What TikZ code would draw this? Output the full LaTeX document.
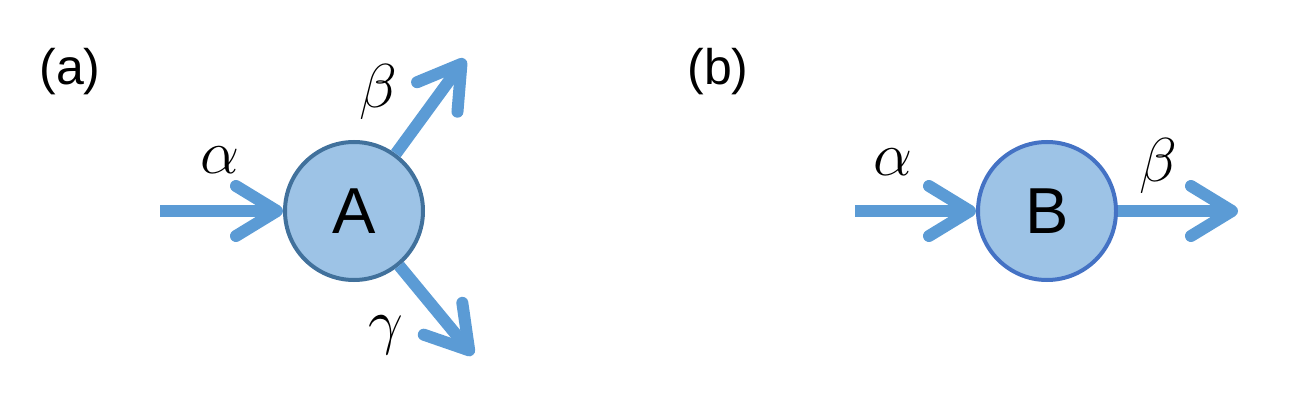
\RequirePackage{fix-cm}
\documentclass[tikz,border=0pt]{standalone}
\usepackage{fontspec}
\setmainfont{Liberation Sans}
\usetikzlibrary{arrows.meta}
\definecolor{arrowblue}{HTML}{5B9BD5}
\definecolor{fillblue}{HTML}{9DC3E6}
\definecolor{borderA}{HTML}{41719C}
\definecolor{borderB}{HTML}{4472C4}
\begin{document}
\begin{tikzpicture}[x=1pt,y=-1pt,
  state/.style={circle,fill=fillblue,line width=4pt,minimum size=138pt,inner sep=0pt,
    font=\fontsize{65}{70}\selectfont},
  flow/.style={arrowblue,line width=12pt,
    -{Straight Barb[length=41pt,width=50pt,round]}},
  glabel/.style={font=\fontsize{62}{66}\selectfont,inner sep=0pt},
  plabel/.style={font=\fontsize{50}{56}\selectfont,inner sep=0pt}]
\useasboundingbox (0,0) rectangle (1293,414);
% (a)
\node[plabel] (la) at (70,72) {(a)};
\node[state,draw=borderA] (A) at (354,211) {A};
\coordinate (a0) at (160,211);
\coordinate (a1) at (465,59);
\coordinate (a2) at (473,355);
\draw[flow] (a0) -- (A);
\draw[flow] (A) -- (a1);
\draw[flow] (A) -- (a2);
\node[glabel] (alA) at (220,160) {$\alpha$};
\node[glabel] (beA) at (378,92) {$\beta$};
\node[glabel] (gaA) at (386,335) {$\gamma$};
% (b)
\node[plabel] (lb) at (718,72) {(b)};
\node[state,draw=borderB] (B) at (1047,211) {B};
\coordinate (b0) at (855,211);
\coordinate (b1) at (1238,211);
\draw[flow] (b0) -- (B);
\draw[flow] (B) -- (b1);
\node[glabel] (alB) at (893,162) {$\alpha$};
\node[glabel] (beB) at (1158,166) {$\beta$};
\end{tikzpicture}
\end{document}
